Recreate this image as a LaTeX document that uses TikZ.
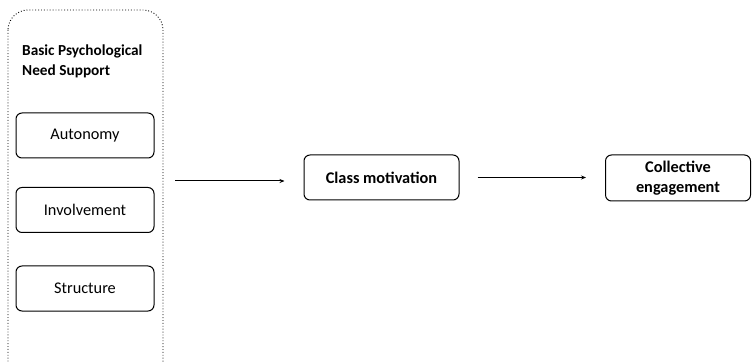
\documentclass[tikz,border=0pt]{standalone}
\usepackage{fontspec}
\usetikzlibrary{arrows.meta}
\setmainfont{Carlito}
\begin{document}
\begin{tikzpicture}[x=1pt,y=-1pt,
  box/.style={draw, rounded corners=6pt, line width=1pt, inner sep=0pt, align=center},
  arr/.style={-{Stealth[length=5pt,width=4pt]}, line width=1pt}]
\useasboundingbox (0,0) rectangle (752,363);
\begin{scope}
\clip (0,0) rectangle (752,363);
\draw[dotted, line width=0.9pt, rounded corners=20pt] (8,10) rectangle (163,385);
\end{scope}
\coordinate (outer) at (163,181);
\node[anchor=north west, align=left, font=\bfseries\fontsize{15.3}{20}\selectfont, inner sep=0pt] (title) at (22,45) {Basic Psychological\\Need Support};
\node[box, minimum width=138pt, minimum height=45pt, font=\fontsize{16.3}{18}\selectfont] (aut) at (85,135.5) {Autonomy};
\node[box, minimum width=138pt, minimum height=45pt, font=\fontsize{16.3}{18}\selectfont] (inv) at (85,210) {Involvement};
\node[box, minimum width=138pt, minimum height=45pt, font=\fontsize{16.3}{18}\selectfont] (str) at (85,288.5) {Structure};
\node[box, minimum width=155pt, minimum height=45pt, font=\bfseries\fontsize{16.3}{18}\selectfont] (cm) at (381.5,177.5) {Class motivation};
\node[box, minimum width=145pt, minimum height=46pt, font=\bfseries\fontsize{16.3}{20}\selectfont] (ce) at (678,178) {Collective\\engagement};
\draw[arr, shorten <=12pt, shorten >=19pt] (outer) -- (outer -| cm.west);
\draw[arr, shorten <=18pt, shorten >=19pt] (cm.east) -- (cm.east -| ce.west);
\end{tikzpicture}
\end{document}
